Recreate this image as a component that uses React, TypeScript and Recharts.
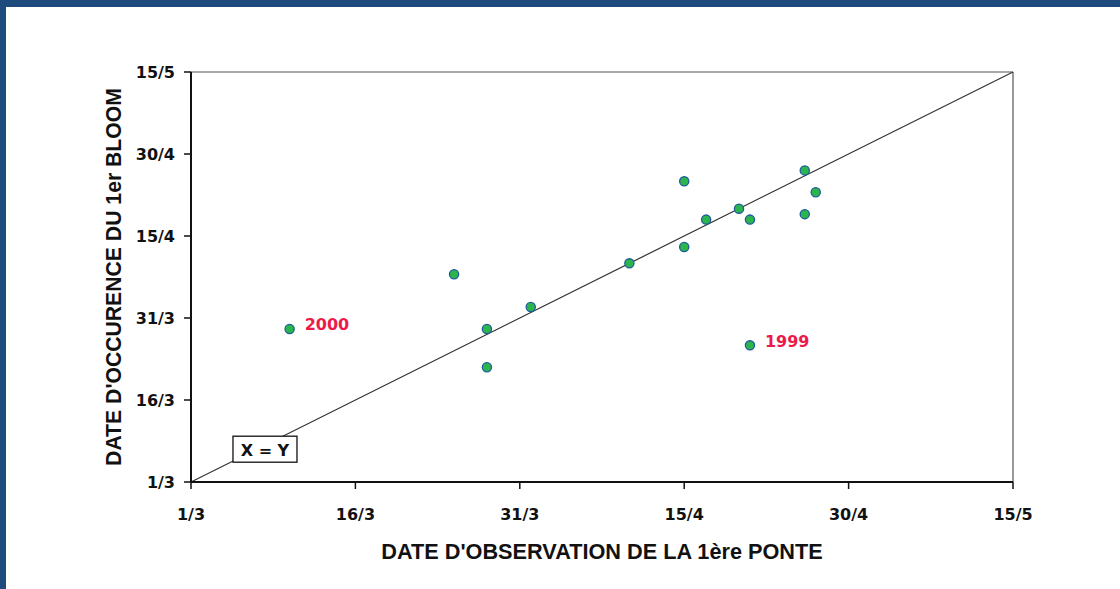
import React from 'react';
import { ScatterChart, Scatter, XAxis, YAxis, ReferenceLine, Label } from 'recharts';

// days counted from 1 March
const tickValues = [0, 15, 30, 45, 60, 75];
const tickLabels = ['1/3', '16/3', '31/3', '15/4', '30/4', '15/5'];

const ponteDays = [9, 24, 27, 27, 31, 40, 45, 45, 47, 50, 51, 51, 56, 56, 57];
const bloomDays = [28, 38, 28, 21, 32, 40, 43, 55, 48, 50, 48, 25, 57, 49, 53];
const yearLabels = ['2000', '', '', '', '', '', '', '', '', '', '', '1999', '', '', ''];

const annotationText = ['X = Y'];
const annotationX = [6.75];
const annotationY = [6];

const xTitle = "DATE D'OBSERVATION DE LA 1ère PONTE";
const yTitle = "DATE D'OCCURENCE DU 1er BLOOM";

const points = ponteDays.map((x, i) => ({ x, y: bloomDays[i], label: yearLabels[i] }));
const annotations = annotationText.map((t, i) => ({ x: annotationX[i], y: annotationY[i], text: t }));

const FONT = "'DejaVu Sans', 'Liberation Sans', Arial, sans-serif";
const TITLE_FONT = "'Liberation Sans', Arial, sans-serif";
const fmt = (v: number) => tickLabels[tickValues.indexOf(v)] ?? '';

const PointShape = (props: any) => {
  const { cx, cy, payload } = props;
  return (
    <g>
      <circle cx={cx} cy={cy} r={4.6} fill="#2cb54c" stroke="#1d5d9b" strokeWidth={1.3} />
      {payload?.label ? (
        <text x={cx + 15} y={cy - 4} fill="#ec1a4b" fontFamily={FONT} fontWeight="bold" fontSize={16} dominantBaseline="central">
          {payload.label}
        </text>
      ) : null}
    </g>
  );
};

const BoxShape = (props: any) => {
  const { cx, cy, payload } = props;
  return (
    <g>
      <rect x={cx - 32} y={cy - 13} width={64} height={26} fill="#ffffff" stroke="#111" strokeWidth={1.3} />
      <text x={cx} y={cy + 1} textAnchor="middle" dominantBaseline="central" fontFamily={FONT} fontWeight="bold" fontSize={16} fill="#111">
        {payload?.text}
      </text>
    </g>
  );
};

const XTitle = (props: any) => {
  const vb = props.viewBox || { x: 191, y: 482, width: 822, height: 80 };
  return (
    <text x={vb.x + vb.width / 2} y={vb.y + 69} textAnchor="middle" dominantBaseline="central" fontFamily={TITLE_FONT} fontWeight="bold" fontSize={21.7} fill="#111">
      {xTitle}
    </text>
  );
};

const YTitle = (props: any) => {
  const vb = props.viewBox || { x: 91, y: 72, width: 100, height: 410 };
  const cx = vb.x + 22;
  const cy = vb.y + vb.height / 2;
  return (
    <text x={cx} y={cy} transform={`rotate(-90, ${cx}, ${cy})`} textAnchor="middle" dominantBaseline="central" fontFamily={TITLE_FONT} fontWeight="bold" fontSize={21.2} fill="#111">
      {yTitle}
    </text>
  );
};

export default function App() {
  return (
    <div style={{ position: 'absolute', left: 0, top: 0, width: 1120, height: 589, background: '#ffffff', overflow: 'hidden' }}>
      <div style={{ position: 'absolute', left: 0, top: 0, width: 1120, height: 7, background: '#1f4a7e' }} />
      <div style={{ position: 'absolute', left: 0, top: 0, width: 6, height: 589, background: '#1f4a7e' }} />
      <div style={{ position: 'absolute', left: 0, top: 0 }}>
        <ScatterChart width={1120} height={589} margin={{ top: 72, right: 107, bottom: 27, left: 91 }}>
          <XAxis
            type="number"
            dataKey="x"
            domain={[0, 75]}
            ticks={tickValues}
            tickFormatter={fmt}
            height={80}
            tickSize={7}
            tickMargin={20}
            axisLine={{ stroke: '#111', strokeWidth: 2 }}
            tickLine={{ stroke: '#111', strokeWidth: 1.5 }}
            tick={{ fill: '#111', fontFamily: FONT, fontWeight: 'bold', fontSize: 16 }}
            allowDataOverflow
          >
            <Label content={<XTitle />} />
          </XAxis>
          <YAxis
            type="number"
            dataKey="y"
            domain={[0, 75]}
            ticks={tickValues}
            tickFormatter={fmt}
            width={100}
            tickSize={7}
            tickMargin={9}
            axisLine={{ stroke: '#111', strokeWidth: 2 }}
            tickLine={{ stroke: '#111', strokeWidth: 1.5 }}
            tick={{ fill: '#111', fontFamily: FONT, fontWeight: 'bold', fontSize: 16 }}
            allowDataOverflow
          >
            <Label content={<YTitle />} />
          </YAxis>
          <ReferenceLine y={75} stroke="#555" strokeWidth={1.2} />
          <ReferenceLine x={75} stroke="#555" strokeWidth={1.2} />
          <ReferenceLine segment={[{ x: 0, y: 0 }, { x: 75, y: 75 }]} stroke="#333" strokeWidth={1.2} />
          <Scatter data={annotations} shape={<BoxShape />} isAnimationActive={false} />
          <Scatter data={points} shape={<PointShape />} isAnimationActive={false} />
        </ScatterChart>
      </div>
    </div>
  );
}
